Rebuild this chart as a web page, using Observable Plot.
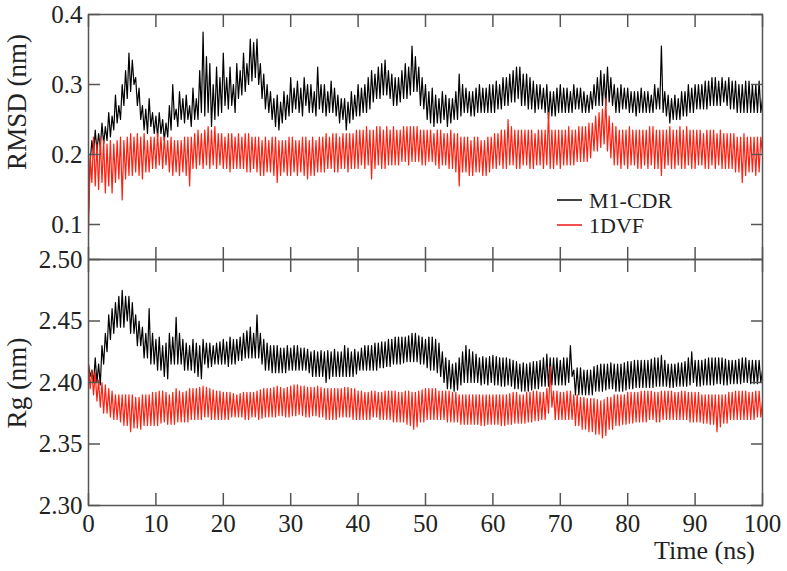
<!DOCTYPE html>
<html>
<head>
<meta charset="utf-8">
<script src="https://cdn.jsdelivr.net/npm/d3@7"></script>
<script src="https://cdn.jsdelivr.net/npm/@observablehq/plot@0.6"></script>
<style>
  body { margin: 0; background: #fff; }
  #chart { position: relative; width: 787px; height: 571px; font-family: "Liberation Serif", "DejaVu Serif", serif; color: #222; overflow: hidden; }
  #chart svg { position: absolute; left: 0; }
  .lab { position: absolute; white-space: nowrap; line-height: 1; }
  .ylab { font-size: 27px; transform: translate(-50%, -50%) rotate(-90deg); }
  .leg { position: absolute; font-size: 22px; white-space: nowrap; line-height: 1; }
  .sw { position: absolute; height: 1.5px; width: 25px; }
</style>
</head>
<body>
<div id="chart"></div>
<script>
// ---- data (time step 0.25 ns, 0..100 ns) ----
const timeStep = 0.25;
const seriesNames = ["M1-CDR", "1DVF"];
const seriesColors = ["#000000", "#ff2010"];
const xTicks = [0, 10, 20, 30, 40, 50, 60, 70, 80, 90, 100];
const rmsdTicks = [0.1, 0.2, 0.3, 0.4];
const rgTicks = [2.30, 2.35, 2.40, 2.45, 2.50];

const rmsdM1 = [
  0.12,0.19,0.22,0.20,0.235,0.205,0.23,0.21,0.245,0.215,0.24,0.22,0.26,0.225,0.255,0.235,0.285,0.245,0.27,0.25,
  0.30,0.27,0.32,0.28,0.345,0.29,0.335,0.30,0.31,0.27,0.295,0.25,0.27,0.235,0.265,0.23,0.28,0.24,0.26,0.23,
  0.255,0.225,0.26,0.23,0.25,0.22,0.245,0.225,0.27,0.235,0.30,0.25,0.265,0.24,0.29,0.25,0.28,0.245,0.285,0.25,
  0.27,0.24,0.295,0.25,0.28,0.25,0.32,0.26,0.375,0.255,0.34,0.26,0.33,0.24,0.30,0.25,0.325,0.255,0.31,0.26,
  0.345,0.27,0.31,0.265,0.325,0.27,0.30,0.26,0.33,0.28,0.32,0.285,0.345,0.29,0.33,0.30,0.365,0.305,0.36,0.31,
  0.365,0.30,0.33,0.28,0.315,0.265,0.30,0.26,0.29,0.25,0.28,0.24,0.285,0.235,0.275,0.245,0.29,0.25,0.285,0.255,
  0.31,0.26,0.295,0.265,0.305,0.26,0.295,0.255,0.31,0.27,0.30,0.26,0.30,0.26,0.29,0.255,0.325,0.265,0.30,0.26,
  0.30,0.255,0.29,0.26,0.305,0.26,0.295,0.255,0.285,0.245,0.28,0.25,0.28,0.235,0.275,0.245,0.29,0.25,0.285,0.255,
  0.30,0.255,0.295,0.26,0.30,0.26,0.31,0.265,0.32,0.275,0.315,0.28,0.325,0.28,0.33,0.285,0.335,0.285,0.32,0.28,
  0.315,0.27,0.31,0.27,0.31,0.275,0.32,0.28,0.33,0.28,0.325,0.285,0.355,0.29,0.34,0.29,0.325,0.27,0.31,0.265,
  0.30,0.25,0.29,0.245,0.295,0.24,0.285,0.245,0.28,0.245,0.29,0.25,0.285,0.24,0.28,0.245,0.28,0.25,0.29,0.25,
  0.315,0.255,0.30,0.26,0.295,0.26,0.29,0.255,0.29,0.255,0.295,0.26,0.30,0.26,0.295,0.26,0.295,0.26,0.30,0.26,
  0.30,0.26,0.305,0.265,0.30,0.265,0.31,0.27,0.31,0.27,0.315,0.275,0.32,0.275,0.325,0.28,0.325,0.27,0.315,0.27,
  0.315,0.265,0.31,0.265,0.305,0.26,0.30,0.265,0.30,0.265,0.295,0.26,0.30,0.25,0.29,0.255,0.29,0.255,0.295,0.26,
  0.30,0.26,0.295,0.26,0.295,0.26,0.29,0.26,0.30,0.265,0.295,0.265,0.295,0.26,0.29,0.26,0.285,0.26,0.29,0.265,
  0.30,0.27,0.31,0.27,0.32,0.27,0.315,0.27,0.325,0.275,0.31,0.27,0.30,0.26,0.295,0.26,0.30,0.265,0.295,0.265,
  0.295,0.26,0.29,0.26,0.29,0.255,0.29,0.26,0.295,0.26,0.29,0.26,0.29,0.26,0.285,0.26,0.30,0.265,0.295,0.265,
  0.355,0.26,0.29,0.255,0.285,0.245,0.28,0.25,0.285,0.25,0.28,0.25,0.29,0.255,0.29,0.255,0.30,0.26,0.295,0.26,
  0.30,0.265,0.30,0.265,0.30,0.265,0.305,0.265,0.305,0.27,0.31,0.27,0.31,0.27,0.305,0.27,0.31,0.275,0.305,0.27,
  0.31,0.265,0.305,0.265,0.305,0.26,0.30,0.26,0.30,0.26,0.305,0.26,0.305,0.26,0.30,0.26,0.30,0.26,0.305,0.26,
  0.28
];
const rmsd1DVF = [
  0.087,0.20,0.16,0.225,0.155,0.215,0.15,0.225,0.16,0.22,0.145,0.215,0.155,0.22,0.145,0.215,0.16,0.22,0.165,0.225,
  0.135,0.22,0.165,0.225,0.17,0.23,0.17,0.225,0.175,0.23,0.17,0.225,0.165,0.23,0.175,0.22,0.175,0.225,0.18,0.225,
  0.18,0.23,0.185,0.225,0.18,0.225,0.185,0.22,0.175,0.225,0.17,0.22,0.175,0.22,0.17,0.22,0.175,0.225,0.17,0.225,
  0.155,0.225,0.18,0.23,0.18,0.235,0.185,0.23,0.18,0.235,0.185,0.24,0.18,0.235,0.185,0.24,0.18,0.23,0.185,0.23,
  0.18,0.225,0.18,0.23,0.175,0.23,0.18,0.225,0.18,0.23,0.18,0.225,0.18,0.23,0.175,0.23,0.175,0.225,0.18,0.225,
  0.175,0.225,0.17,0.22,0.17,0.225,0.175,0.22,0.175,0.225,0.17,0.225,0.16,0.22,0.17,0.22,0.175,0.22,0.17,0.225,
  0.17,0.225,0.175,0.22,0.17,0.22,0.175,0.225,0.17,0.225,0.165,0.22,0.17,0.225,0.17,0.22,0.175,0.225,0.175,0.225,
  0.175,0.23,0.18,0.225,0.18,0.23,0.175,0.23,0.175,0.225,0.18,0.23,0.18,0.23,0.175,0.23,0.18,0.23,0.18,0.235,
  0.18,0.235,0.185,0.235,0.18,0.24,0.185,0.235,0.165,0.235,0.18,0.24,0.185,0.24,0.18,0.235,0.18,0.24,0.185,0.235,
  0.185,0.24,0.185,0.235,0.185,0.235,0.19,0.24,0.19,0.24,0.185,0.24,0.19,0.24,0.19,0.24,0.19,0.235,0.185,0.235,
  0.185,0.235,0.19,0.235,0.19,0.23,0.185,0.235,0.18,0.235,0.185,0.23,0.185,0.23,0.18,0.235,0.18,0.23,0.175,0.23,
  0.155,0.225,0.175,0.225,0.175,0.225,0.17,0.22,0.17,0.225,0.175,0.225,0.175,0.22,0.17,0.22,0.17,0.225,0.175,0.225,
  0.18,0.23,0.18,0.23,0.185,0.235,0.18,0.235,0.18,0.25,0.185,0.24,0.185,0.235,0.18,0.235,0.18,0.235,0.185,0.235,
  0.185,0.235,0.18,0.235,0.18,0.23,0.185,0.235,0.185,0.235,0.18,0.235,0.185,0.26,0.18,0.235,0.18,0.235,0.185,0.235,
  0.18,0.235,0.185,0.235,0.185,0.24,0.185,0.235,0.185,0.235,0.19,0.24,0.19,0.24,0.19,0.24,0.19,0.245,0.195,0.245,
  0.205,0.255,0.205,0.26,0.21,0.265,0.215,0.28,0.205,0.255,0.195,0.245,0.185,0.24,0.185,0.235,0.18,0.235,0.185,0.235,
  0.18,0.24,0.185,0.235,0.185,0.235,0.18,0.235,0.18,0.235,0.185,0.235,0.18,0.24,0.185,0.24,0.18,0.235,0.18,0.235,
  0.17,0.235,0.18,0.235,0.185,0.24,0.18,0.235,0.18,0.235,0.185,0.24,0.18,0.235,0.18,0.24,0.185,0.235,0.18,0.235,
  0.18,0.235,0.185,0.235,0.185,0.23,0.18,0.235,0.18,0.235,0.185,0.235,0.18,0.23,0.185,0.235,0.18,0.23,0.18,0.23,
  0.18,0.23,0.18,0.23,0.175,0.225,0.175,0.225,0.16,0.23,0.17,0.225,0.175,0.225,0.175,0.225,0.17,0.225,0.175,0.225,
  0.20
];
const rgM1 = [
  2.415,2.405,2.41,2.40,2.42,2.40,2.415,2.398,2.43,2.415,2.44,2.425,2.455,2.435,2.46,2.44,2.465,2.445,2.47,2.445,
  2.475,2.445,2.47,2.45,2.47,2.44,2.465,2.44,2.455,2.43,2.45,2.43,2.445,2.42,2.44,2.42,2.46,2.415,2.44,2.415,
  2.435,2.41,2.437,2.41,2.43,2.405,2.432,2.403,2.44,2.415,2.437,2.415,2.453,2.415,2.44,2.415,2.435,2.41,2.432,2.41,
  2.43,2.41,2.435,2.408,2.432,2.405,2.43,2.403,2.435,2.415,2.432,2.412,2.432,2.413,2.43,2.415,2.432,2.415,2.433,2.415,
  2.435,2.415,2.433,2.413,2.437,2.415,2.435,2.415,2.435,2.418,2.437,2.418,2.44,2.42,2.442,2.42,2.445,2.42,2.44,2.42,
  2.455,2.42,2.44,2.415,2.435,2.41,2.432,2.41,2.43,2.408,2.43,2.408,2.43,2.408,2.428,2.408,2.428,2.408,2.43,2.41,
  2.428,2.41,2.43,2.41,2.43,2.41,2.428,2.41,2.428,2.41,2.427,2.408,2.425,2.405,2.426,2.405,2.425,2.405,2.426,2.405,
  2.425,2.40,2.426,2.403,2.425,2.405,2.427,2.405,2.425,2.405,2.425,2.405,2.43,2.405,2.428,2.405,2.425,2.405,2.427,2.407,
  2.425,2.41,2.428,2.41,2.43,2.41,2.43,2.41,2.43,2.41,2.432,2.41,2.432,2.412,2.433,2.412,2.433,2.413,2.435,2.413,
  2.435,2.415,2.437,2.415,2.437,2.415,2.437,2.416,2.437,2.417,2.438,2.417,2.44,2.417,2.44,2.417,2.438,2.415,2.437,2.415,
  2.435,2.412,2.437,2.41,2.437,2.41,2.435,2.408,2.432,2.405,2.425,2.40,2.42,2.395,2.418,2.395,2.415,2.393,2.416,2.394,
  2.42,2.398,2.425,2.40,2.43,2.40,2.427,2.40,2.425,2.40,2.423,2.40,2.42,2.398,2.421,2.399,2.42,2.398,2.421,2.40,
  2.422,2.398,2.421,2.398,2.42,2.397,2.42,2.397,2.42,2.398,2.419,2.397,2.418,2.395,2.417,2.395,2.415,2.393,2.416,2.393,
  2.415,2.393,2.416,2.394,2.417,2.395,2.417,2.395,2.418,2.397,2.42,2.397,2.423,2.397,2.42,2.398,2.42,2.398,2.42,2.398,
  2.418,2.398,2.42,2.398,2.42,2.40,2.43,2.405,2.41,2.39,2.412,2.39,2.412,2.39,2.41,2.39,2.41,2.39,2.41,2.39,
  2.413,2.393,2.414,2.393,2.415,2.393,2.415,2.394,2.415,2.395,2.416,2.395,2.415,2.393,2.415,2.393,2.415,2.393,2.416,2.394,
  2.417,2.395,2.417,2.395,2.418,2.396,2.418,2.396,2.418,2.396,2.418,2.396,2.418,2.396,2.419,2.396,2.42,2.397,2.42,2.397,
  2.422,2.397,2.418,2.397,2.415,2.396,2.415,2.396,2.415,2.397,2.416,2.397,2.416,2.397,2.417,2.397,2.42,2.398,2.425,2.40,
  2.418,2.397,2.418,2.397,2.418,2.398,2.419,2.398,2.42,2.398,2.42,2.398,2.42,2.399,2.42,2.399,2.42,2.398,2.419,2.398,
  2.418,2.399,2.418,2.399,2.418,2.399,2.419,2.399,2.42,2.40,2.42,2.40,2.418,2.399,2.418,2.399,2.418,2.399,2.418,2.40,
  2.41
];
const rg1DVF = [
  2.415,2.395,2.41,2.39,2.408,2.385,2.402,2.38,2.40,2.375,2.398,2.375,2.395,2.372,2.393,2.37,2.39,2.37,2.39,2.368,
  2.39,2.365,2.39,2.365,2.39,2.36,2.39,2.363,2.388,2.363,2.388,2.362,2.39,2.365,2.39,2.365,2.39,2.365,2.392,2.365,
  2.392,2.365,2.393,2.367,2.393,2.368,2.392,2.366,2.39,2.366,2.392,2.366,2.395,2.368,2.393,2.368,2.392,2.368,2.393,2.368,
  2.395,2.37,2.395,2.37,2.395,2.37,2.396,2.37,2.397,2.372,2.396,2.372,2.395,2.37,2.394,2.37,2.393,2.37,2.393,2.37,
  2.392,2.37,2.392,2.37,2.392,2.372,2.391,2.372,2.39,2.372,2.391,2.372,2.392,2.37,2.392,2.37,2.392,2.372,2.392,2.372,
  2.393,2.37,2.394,2.371,2.395,2.372,2.395,2.372,2.395,2.372,2.396,2.372,2.397,2.373,2.396,2.373,2.395,2.372,2.396,2.372,
  2.397,2.373,2.398,2.373,2.398,2.374,2.397,2.373,2.397,2.372,2.396,2.372,2.396,2.373,2.396,2.373,2.397,2.372,2.396,2.372,
  2.395,2.37,2.395,2.37,2.395,2.37,2.395,2.37,2.395,2.372,2.395,2.372,2.396,2.372,2.396,2.372,2.395,2.37,2.395,2.37,
  2.393,2.37,2.393,2.37,2.392,2.37,2.392,2.37,2.393,2.372,2.393,2.372,2.392,2.37,2.392,2.37,2.393,2.37,2.393,2.37,
  2.393,2.368,2.393,2.368,2.392,2.368,2.392,2.368,2.393,2.366,2.393,2.365,2.392,2.362,2.392,2.364,2.393,2.368,2.394,2.368,
  2.395,2.37,2.395,2.37,2.395,2.37,2.395,2.37,2.393,2.37,2.393,2.37,2.393,2.368,2.393,2.368,2.392,2.368,2.392,2.368,
  2.39,2.366,2.39,2.366,2.39,2.366,2.39,2.366,2.39,2.366,2.39,2.366,2.39,2.365,2.39,2.365,2.39,2.366,2.39,2.366,
  2.39,2.366,2.39,2.366,2.39,2.365,2.39,2.365,2.39,2.366,2.391,2.366,2.392,2.367,2.392,2.367,2.39,2.367,2.39,2.367,
  2.392,2.368,2.392,2.368,2.393,2.369,2.393,2.369,2.392,2.37,2.392,2.37,2.395,2.375,2.413,2.38,2.393,2.37,2.393,2.37,
  2.392,2.37,2.392,2.37,2.393,2.37,2.393,2.37,2.39,2.365,2.39,2.365,2.388,2.362,2.388,2.362,2.387,2.36,2.387,2.36,
  2.387,2.358,2.386,2.358,2.385,2.355,2.386,2.357,2.388,2.362,2.388,2.362,2.39,2.365,2.39,2.365,2.39,2.366,2.39,2.366,
  2.392,2.367,2.392,2.367,2.392,2.368,2.392,2.368,2.393,2.368,2.393,2.368,2.393,2.37,2.393,2.37,2.392,2.368,2.392,2.368,
  2.393,2.37,2.393,2.37,2.393,2.37,2.393,2.37,2.392,2.37,2.392,2.37,2.393,2.37,2.393,2.37,2.392,2.368,2.392,2.368,
  2.392,2.368,2.392,2.368,2.39,2.367,2.39,2.367,2.39,2.366,2.39,2.366,2.39,2.36,2.39,2.364,2.39,2.367,2.39,2.367,
  2.392,2.37,2.392,2.37,2.393,2.37,2.393,2.37,2.393,2.37,2.393,2.37,2.392,2.37,2.392,2.37,2.393,2.372,2.393,2.372,
  2.385
];

// ---- layout ----
const W = 787, ML = 88, MR = 25;
const axisColor = "#555";
const fontName = "Liberation Serif";
const TICK = 12;

function toRows(values) { return values.map((v, i) => ({t: i * timeStep, v})); }

function panel({height, marginTop, marginBottom, domain, ticks, fmt, series, showX}) {
  const marks = [];
  series.forEach((vals, k) => {
    marks.push(Plot.line(toRows(vals), {x: "t", y: "v", stroke: seriesColors[k], strokeWidth: 1.2, clip: true}));
  });
  const noText = () => "";
  const tickStyle = {tickFormat: noText, label: null, stroke: axisColor, strokeWidth: 1.5};
  marks.push(
    // inward ticks on all four sides
    Plot.axisY(ticks, {anchor: "left", tickSize: TICK, dx: TICK, ...tickStyle}),
    Plot.axisY(ticks, {anchor: "right", tickSize: TICK, dx: -TICK, ...tickStyle}),
    Plot.axisX(xTicks, {anchor: "top", tickSize: TICK, dy: TICK, ...tickStyle}),
    Plot.axisX(xTicks, {anchor: "bottom", tickSize: TICK, dy: -TICK, ...tickStyle}),
    Plot.frame({stroke: axisColor, strokeWidth: 1.5}),
    Plot.axisY(ticks, {anchor: "left", tickSize: 0, tickPadding: 6, tickFormat: fmt, fontSize: 25, label: null, fill: "#222"})
  );
  if (showX) {
    marks.push(Plot.axisX(xTicks, {anchor: "bottom", tickSize: 0, tickPadding: 9, fontSize: 25, label: null, fill: "#222"}));
  }
  return Plot.plot({
    width: W, height, marginTop, marginBottom, marginLeft: ML, marginRight: MR,
    x: {domain: [0, 100], axis: null},
    y: {domain, axis: null},
    style: {background: "transparent", overflow: "visible", fontFamily: fontName, fontSize: "25px", color: "#222"},
    marks
  });
}

const chartEl = document.getElementById("chart");

const topPlot = panel({height: 260, marginTop: 14, marginBottom: 1, domain: [0.05, 0.4], ticks: rmsdTicks,
  fmt: d => d.toFixed(1), series: [rmsdM1, rmsd1DVF], showX: false});
topPlot.style.top = "0px";
chartEl.appendChild(topPlot);

const botPlot = panel({height: 313, marginTop: 1, marginBottom: 66, domain: [2.30, 2.50], ticks: rgTicks,
  fmt: d => d.toFixed(2), series: [rgM1, rg1DVF], showX: true});
botPlot.style.top = "258px";
chartEl.appendChild(botPlot);

function addDiv(cls, text, css) {
  const d = document.createElement("div");
  d.className = cls;
  if (text) d.textContent = text;
  Object.assign(d.style, css);
  chartEl.appendChild(d);
  return d;
}
addDiv("lab ylab", "RMSD (nm)", {left: "17px", top: "102px"});
addDiv("lab ylab", "Rg (nm)", {left: "17px", top: "383px"});
addDiv("lab", "Time (ns)", {right: (787 - 755) + "px", top: "538px", fontSize: "26px"});

// legend
seriesNames.forEach((name, k) => {
  const cy = 200 + k * 25;
  addDiv("sw", "", {left: "557px", top: (cy - 0.75) + "px", background: k === 0 ? "#444" : "#f05050"});
  addDiv("leg", name, {left: "589px", top: (cy - 10) + "px"});
});
</script>
</body>
</html>
